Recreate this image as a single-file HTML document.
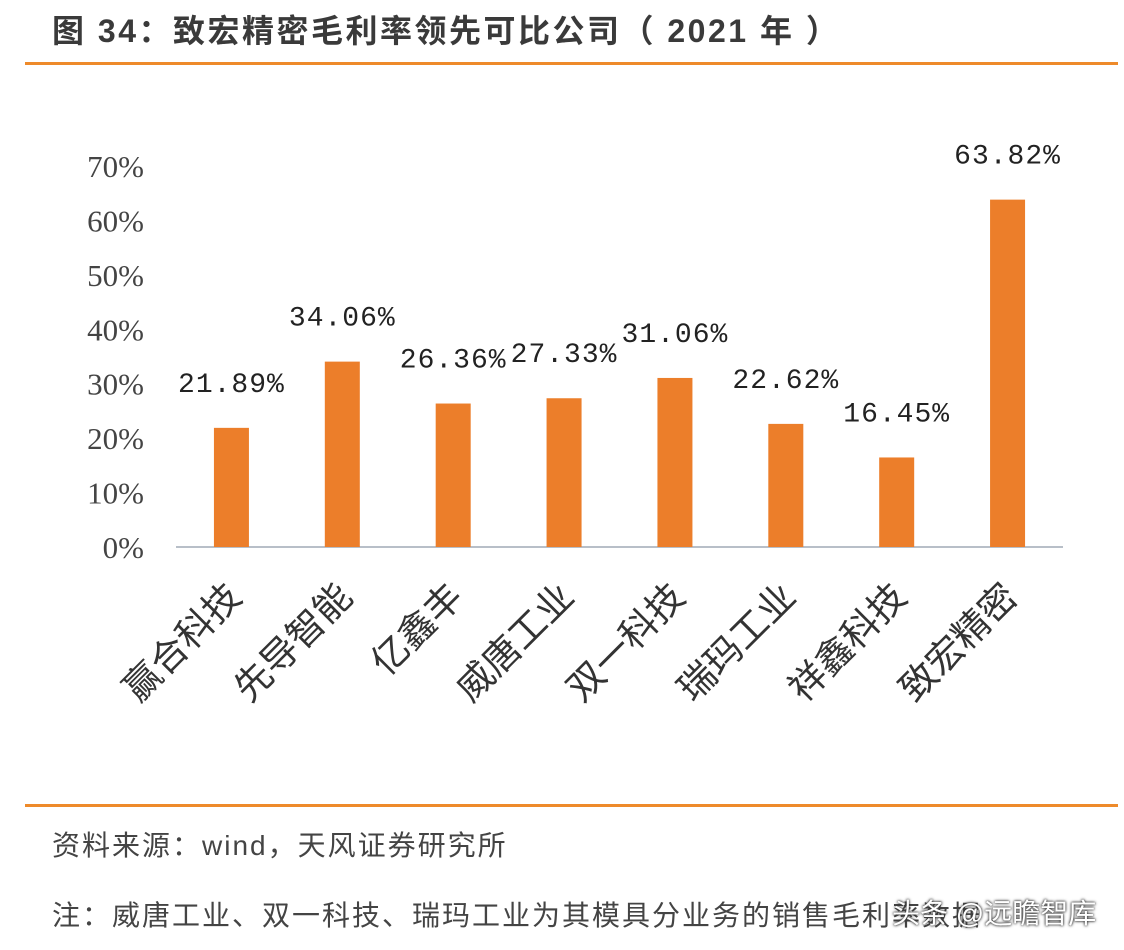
<!DOCTYPE html>
<html><head><meta charset="utf-8"><style>
html,body{margin:0;padding:0;background:#fff;}
body{width:1124px;height:950px;position:relative;overflow:hidden;font-family:"Liberation Sans","Noto Sans CJK SC",sans-serif;}
.abs{position:absolute;}
</style></head><body>
<div class="abs" style="left:52px;top:6px;font-size:32px;letter-spacing:2.5px;font-weight:bold;color:#3a3a3a;white-space:nowrap;">图 34：致宏精密毛利率领先可比公司（ 2021 年 ）</div>
<div class="abs" style="left:25px;top:62px;width:1093px;height:3px;background:#ee8a2a;"></div>
<svg class="abs" style="left:0;top:0" width="1124" height="950">
<g id="g"></g>
</svg>
<div class="abs" style="left:25px;top:804px;width:1093px;height:3px;background:#ee8a2a;"></div>
<div class="abs" style="left:52px;top:824px;font-size:28px;letter-spacing:2px;color:#444;white-space:nowrap;">资料来源：wind，天风证券研究所</div>
<div class="abs" style="left:52px;top:894px;font-size:28px;letter-spacing:2px;color:#444;white-space:nowrap;">注：威唐工业、双一科技、瑞玛工业为其模具分业务的销售毛利率数据</div>
<div class="abs" style="left:892px;top:892px;font-size:28px;color:#fff;white-space:nowrap;text-shadow:0 0 3px #333,0 0 2px #333;">头条 @远瞻智库</div>
<script>
const categories=["赢合科技","先导智能","亿鑫丰","威唐工业","双一科技","瑞玛工业","祥鑫科技","致宏精密"];
const values=[21.89,34.06,26.36,27.33,31.06,22.62,16.45,63.82];
const valueLabels=["21.89%","34.06%","26.36%","27.33%","31.06%","22.62%","16.45%","63.82%"];
const ticks=[0,10,20,30,40,50,60,70];
const NS="http://www.w3.org/2000/svg";
const g=document.getElementById('g');
const x0=176,x1=1063,y0=547,yTop=166,maxV=70;
const y=v=>y0-(v/maxV)*(y0-yTop);
const step=(x1-x0)/categories.length;
const cx=i=>x0+step*(i+0.5);
function mk(t,a){const e=document.createElementNS(NS,t);for(const k in a)e.setAttribute(k,a[k]);g.appendChild(e);return e;}
ticks.forEach(t=>{
 const e=mk('text',{x:144,y:y(t)+11,'text-anchor':'end','font-size':31,fill:'#444','font-family':'Liberation Serif, serif'});
 e.textContent=t+'%';
 
 
});
const ax=mk('line',{x1:x0,y1:y0,x2:x1,y2:y0,stroke:'#b8bfc8','stroke-width':2});


values.forEach((v,i)=>{
 const bw=35;
 const r=mk('rect',{x:cx(i)-bw/2,y:y(v),width:bw,height:y0-y(v),fill:'#ec7e2a'});
 
 
 const l=mk('text',{x:cx(i),y:y(v)-36,'text-anchor':'middle','font-size':28,fill:'#222','font-family':'Liberation Mono, monospace','letter-spacing':'1'});
 l.textContent=valueLabels[i];
 
 
 const c=mk('text',{x:0,y:0,'text-anchor':'end','font-size':37,fill:'#333','font-family':'Noto Sans CJK SC, sans-serif',transform:`translate(${cx(i)+12},${y0+52}) rotate(-45)`});
 c.textContent=categories[i];
 
 
});
</script>
</body></html>
